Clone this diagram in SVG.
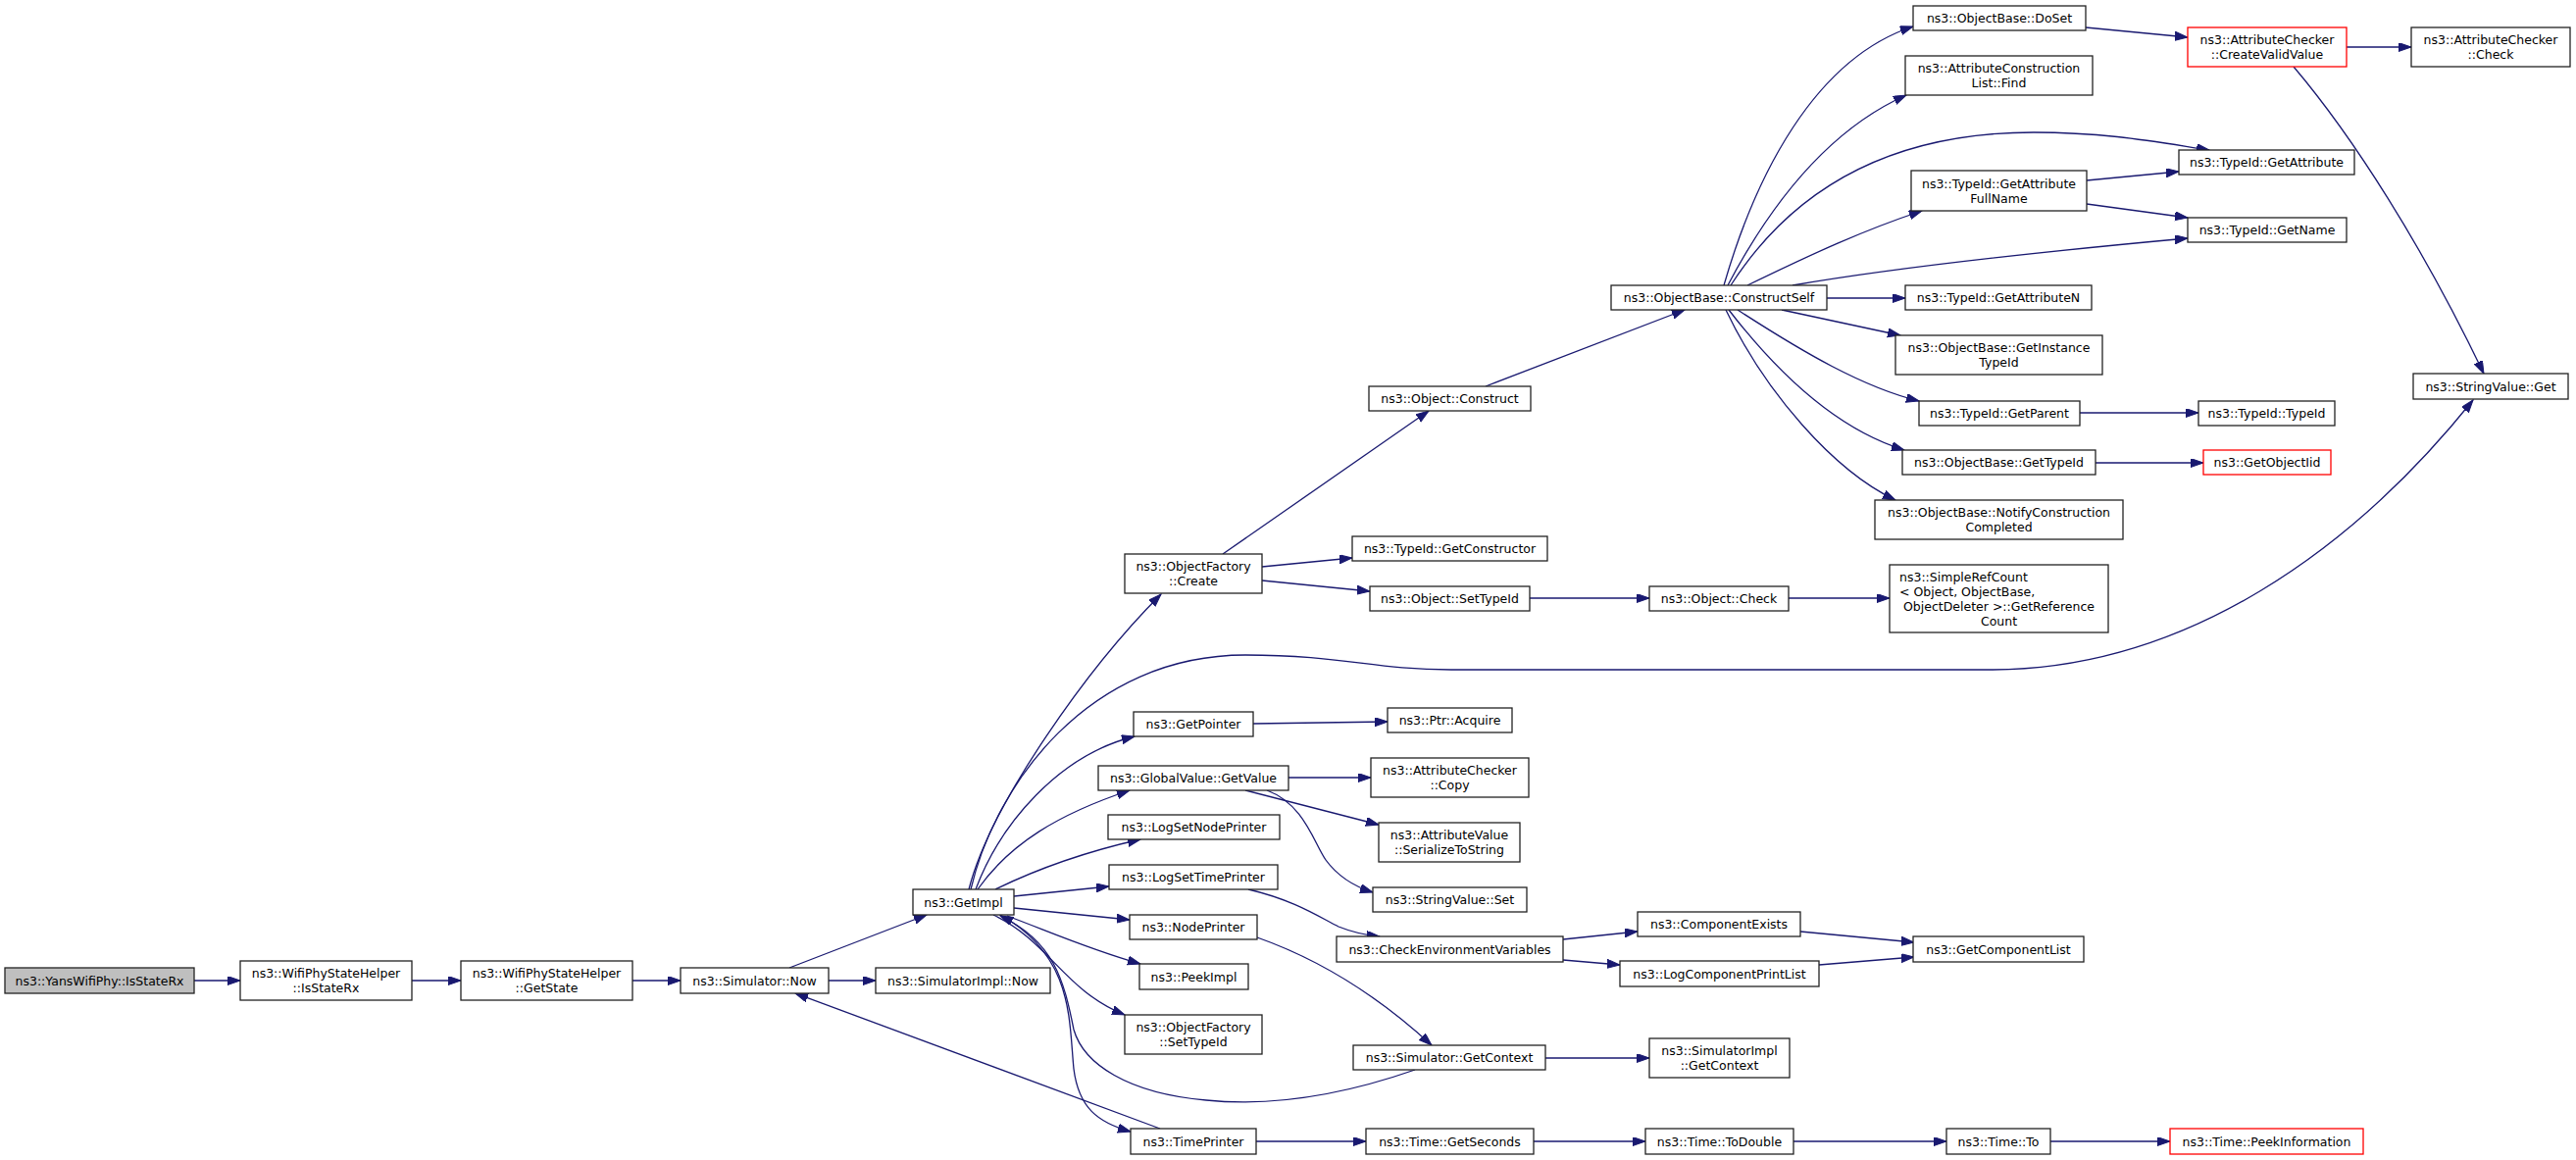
<svg xmlns="http://www.w3.org/2000/svg" width="2627" height="1183" viewBox="0 0 2627 1183">
<style>
.n rect{fill:#fff;stroke:#222;stroke-width:1.3}
.n.root rect{fill:#bfbfbf}
.n.red rect{stroke:#ff0000}
.n text{font-family:"DejaVu Sans","Liberation Sans",sans-serif;font-size:12.5px;fill:#000;text-anchor:middle}
.n text.l{text-anchor:start}
#edges path{fill:none;stroke:#191970;stroke-width:1.3;marker-end:url(#ah)}
</style>
<defs>
<marker id="ah" markerUnits="userSpaceOnUse" markerWidth="14" markerHeight="10" refX="13" refY="4.5" orient="auto">
<path d="M0,0 L13,4.5 L0,9 Z" fill="#191970" stroke="#191970" stroke-width="1"/>
</marker>
</defs>
<rect width="2627" height="1183" fill="#fff"/>
<g id="edges">
<path d="M198,1000 L245,1000"/>
<path d="M420,1000 L470,1000"/>
<path d="M645,1000 L694,1000"/>
<path d="M805,987 L945,933"/>
<path d="M845,1000 L893,1000"/>
<path d="M1183,1151 L811,1013"/>
<path d="M988,907 C1010,820 1110,680 1184,606"/>
<path d="M990,907 C1015,800 1110,668 1270,668 C1370,668 1400,683 1480,683 L2030,683 C2230,683 2400,560 2522,408"/>
<path d="M995,907 C1020,840 1080,770 1157,751"/>
<path d="M997,907 C1030,860 1080,830 1152,806"/>
<path d="M1015,907 C1060,885 1110,868 1163,856"/>
<path d="M1034,914 L1131,904"/>
<path d="M1034,926 L1152,938"/>
<path d="M1027,934 C1070,950 1110,968 1163,983"/>
<path d="M1013,933 C1070,960 1085,1010 1147,1035"/>
<path d="M1020,933 C1095,975 1090,1040 1095,1090 C1100,1130 1120,1145 1153,1154"/>
<path d="M1443,1091 C1360,1120 1290,1128 1230,1122 C1150,1115 1105,1085 1095,1050 C1085,1000 1075,960 1020,934"/>
<path d="M1282,956 C1350,980 1410,1020 1460,1066"/>
<path d="M1273,907 C1320,918 1345,935 1365,945 C1380,951 1395,954 1407,955"/>
<path d="M1292,806 C1330,820 1340,860 1352,877 C1366,896 1384,905 1400,910"/>
<path d="M1270,806 L1406,841"/>
<path d="M1314,793 L1398,793"/>
<path d="M1278,738 L1415,736"/>
<path d="M1287,578 L1379,569"/>
<path d="M1287,592 L1397,603"/>
<path d="M1247,565 L1457,419"/>
<path d="M1560,610 L1682,610"/>
<path d="M1824,610 L1927,610"/>
<path d="M1515,394 L1718,316"/>
<path d="M1594,958 L1670,950"/>
<path d="M1594,979 L1652,984"/>
<path d="M1836,950 L1952,961"/>
<path d="M1855,984 L1952,976"/>
<path d="M1576,1079 L1682,1079"/>
<path d="M1281,1164 L1393,1164"/>
<path d="M1564,1164 L1678,1164"/>
<path d="M1829,1164 L1985,1164"/>
<path d="M2091,1164 L2213,1164"/>
<path d="M1758,291 C1790,180 1850,60 1951,27"/>
<path d="M1762,291 C1810,200 1870,130 1944,97"/>
<path d="M1765,291 C1830,190 1930,135 2074,135 C2150,135 2200,145 2253,153"/>
<path d="M1782,291 C1850,258 1900,235 1960,215"/>
<path d="M1828,291 C1950,270 2100,255 2231,243"/>
<path d="M2128,184 L2222,175"/>
<path d="M2128,208 L2231,222"/>
<path d="M2127,28 L2231,38"/>
<path d="M2393,48 L2459,48"/>
<path d="M2339,68 C2400,140 2470,250 2533,381"/>
<path d="M1863,304 L1943,304"/>
<path d="M1817,316 L1938,342"/>
<path d="M1772,316 C1840,360 1900,395 1957,409"/>
<path d="M1763,316 C1820,390 1880,440 1942,459"/>
<path d="M1760,316 C1800,400 1870,480 1933,510"/>
<path d="M2121,421 L2242,421"/>
<path d="M2137,472 L2247,472"/>
</g>
<g id="n0" class="n root"><rect x="5" y="987" width="193" height="26"/><text x="101.5" y="1004.5">ns3::YansWifiPhy::IsStateRx</text></g>
<g id="n1" class="n"><rect x="245" y="980" width="175" height="40"/><text x="332.5" y="997">ns3::WifiPhyStateHelper</text><text x="332.5" y="1012">::IsStateRx</text></g>
<g id="n2" class="n"><rect x="470" y="980" width="175" height="40"/><text x="557.5" y="997">ns3::WifiPhyStateHelper</text><text x="557.5" y="1012">::GetState</text></g>
<g id="n3" class="n"><rect x="694" y="987" width="151" height="26"/><text x="769.5" y="1004.5">ns3::Simulator::Now</text></g>
<g id="n4" class="n"><rect x="931" y="907" width="103" height="26"/><text x="982.5" y="924.5">ns3::GetImpl</text></g>
<g id="n5" class="n"><rect x="893" y="987" width="178" height="26"/><text x="982" y="1004.5">ns3::SimulatorImpl::Now</text></g>
<g id="n6" class="n"><rect x="1147" y="565" width="140" height="40"/><text x="1217" y="582">ns3::ObjectFactory</text><text x="1217" y="597">::Create</text></g>
<g id="n7" class="n"><rect x="1156" y="726" width="122" height="25"/><text x="1217" y="743">ns3::GetPointer</text></g>
<g id="n8" class="n"><rect x="1120" y="781" width="194" height="25"/><text x="1217" y="798">ns3::GlobalValue::GetValue</text></g>
<g id="n9" class="n"><rect x="1130" y="831" width="175" height="25"/><text x="1217.5" y="848">ns3::LogSetNodePrinter</text></g>
<g id="n10" class="n"><rect x="1131" y="882" width="172" height="25"/><text x="1217" y="899">ns3::LogSetTimePrinter</text></g>
<g id="n11" class="n"><rect x="1152" y="933" width="130" height="25"/><text x="1217" y="950">ns3::NodePrinter</text></g>
<g id="n12" class="n"><rect x="1162" y="983" width="111" height="26"/><text x="1217.5" y="1000.5">ns3::PeekImpl</text></g>
<g id="n13" class="n"><rect x="1147" y="1035" width="140" height="40"/><text x="1217" y="1052">ns3::ObjectFactory</text><text x="1217" y="1067">::SetTypeId</text></g>
<g id="n14" class="n"><rect x="1153" y="1151" width="128" height="26"/><text x="1217" y="1168.5">ns3::TimePrinter</text></g>
<g id="n15" class="n"><rect x="1396" y="394" width="165" height="25"/><text x="1478.5" y="411">ns3::Object::Construct</text></g>
<g id="n16" class="n"><rect x="1379" y="547" width="199" height="25"/><text x="1478.5" y="564">ns3::TypeId::GetConstructor</text></g>
<g id="n17" class="n"><rect x="1397" y="598" width="163" height="25"/><text x="1478.5" y="615">ns3::Object::SetTypeId</text></g>
<g id="n18" class="n"><rect x="1415" y="722" width="127" height="25"/><text x="1478.5" y="739">ns3::Ptr::Acquire</text></g>
<g id="n19" class="n"><rect x="1398" y="773" width="161" height="40"/><text x="1478.5" y="790">ns3::AttributeChecker</text><text x="1478.5" y="805">::Copy</text></g>
<g id="n20" class="n"><rect x="1406" y="839" width="144" height="40"/><text x="1478" y="856">ns3::AttributeValue</text><text x="1478" y="871">::SerializeToString</text></g>
<g id="n21" class="n"><rect x="1400" y="905" width="157" height="25"/><text x="1478.5" y="922">ns3::StringValue::Set</text></g>
<g id="n22" class="n"><rect x="1363" y="955" width="231" height="26"/><text x="1478.5" y="972.5">ns3::CheckEnvironmentVariables</text></g>
<g id="n23" class="n"><rect x="1380" y="1066" width="196" height="25"/><text x="1478" y="1083">ns3::Simulator::GetContext</text></g>
<g id="n24" class="n"><rect x="1393" y="1151" width="171" height="26"/><text x="1478.5" y="1168.5">ns3::Time::GetSeconds</text></g>
<g id="n25" class="n"><rect x="1643" y="291" width="220" height="25"/><text x="1753" y="308">ns3::ObjectBase::ConstructSelf</text></g>
<g id="n26" class="n"><rect x="1682" y="598" width="142" height="25"/><text x="1753" y="615">ns3::Object::Check</text></g>
<g id="n27" class="n"><rect x="1670" y="930" width="166" height="25"/><text x="1753" y="947">ns3::ComponentExists</text></g>
<g id="n28" class="n"><rect x="1652" y="980" width="203" height="26"/><text x="1753.5" y="997.5">ns3::LogComponentPrintList</text></g>
<g id="n29" class="n"><rect x="1682" y="1059" width="143" height="40"/><text x="1753.5" y="1076">ns3::SimulatorImpl</text><text x="1753.5" y="1091">::GetContext</text></g>
<g id="n30" class="n"><rect x="1678" y="1151" width="151" height="26"/><text x="1753.5" y="1168.5">ns3::Time::ToDouble</text></g>
<g id="n31" class="n"><rect x="1951" y="6" width="176" height="25"/><text x="2039" y="23">ns3::ObjectBase::DoSet</text></g>
<g id="n32" class="n"><rect x="1943" y="57" width="191" height="40"/><text x="2038.5" y="74">ns3::AttributeConstruction</text><text x="2038.5" y="89">List::Find</text></g>
<g id="n33" class="n"><rect x="1949" y="174" width="179" height="41"/><text x="2038.5" y="191.5">ns3::TypeId::GetAttribute</text><text x="2038.5" y="206.5">FullName</text></g>
<g id="n34" class="n"><rect x="1943" y="291" width="190" height="25"/><text x="2038" y="308">ns3::TypeId::GetAttributeN</text></g>
<g id="n35" class="n"><rect x="1933" y="342" width="211" height="40"/><text x="2038.5" y="359">ns3::ObjectBase::GetInstance</text><text x="2038.5" y="374">TypeId</text></g>
<g id="n36" class="n"><rect x="1957" y="409" width="164" height="25"/><text x="2039" y="426">ns3::TypeId::GetParent</text></g>
<g id="n37" class="n"><rect x="1940" y="459" width="197" height="25"/><text x="2038.5" y="476">ns3::ObjectBase::GetTypeId</text></g>
<g id="n38" class="n"><rect x="1912" y="510" width="253" height="40"/><text x="2038.5" y="527">ns3::ObjectBase::NotifyConstruction</text><text x="2038.5" y="542">Completed</text></g>
<g id="n39" class="n"><rect x="1927" y="576" width="223" height="69"/><text class="l" x="1937" y="592.5">ns3::SimpleRefCount</text><text class="l" x="1937" y="607.5">&lt; Object, ObjectBase,</text><text x="2038.5" y="622.5">ObjectDeleter &gt;::GetReference</text><text x="2038.5" y="637.5">Count</text></g>
<g id="n40" class="n"><rect x="1951" y="955" width="174" height="26"/><text x="2038" y="972.5">ns3::GetComponentList</text></g>
<g id="n41" class="n"><rect x="1985" y="1151" width="106" height="26"/><text x="2038" y="1168.5">ns3::Time::To</text></g>
<g id="n42" class="n red"><rect x="2231" y="28" width="162" height="40"/><text x="2312" y="45">ns3::AttributeChecker</text><text x="2312" y="60">::CreateValidValue</text></g>
<g id="n43" class="n"><rect x="2222" y="153" width="179" height="25"/><text x="2311.5" y="170">ns3::TypeId::GetAttribute</text></g>
<g id="n44" class="n"><rect x="2231" y="222" width="162" height="25"/><text x="2312" y="239">ns3::TypeId::GetName</text></g>
<g id="n45" class="n"><rect x="2242" y="409" width="139" height="25"/><text x="2311.5" y="426">ns3::TypeId::TypeId</text></g>
<g id="n46" class="n red"><rect x="2247" y="459" width="130" height="25"/><text x="2312" y="476">ns3::GetObjectIid</text></g>
<g id="n47" class="n red"><rect x="2213" y="1151" width="197" height="26"/><text x="2311.5" y="1168.5">ns3::Time::PeekInformation</text></g>
<g id="n48" class="n"><rect x="2459" y="28" width="162" height="40"/><text x="2540" y="45">ns3::AttributeChecker</text><text x="2540" y="60">::Check</text></g>
<g id="n49" class="n"><rect x="2461" y="381" width="158" height="26"/><text x="2540" y="398.5">ns3::StringValue::Get</text></g>
</svg>
